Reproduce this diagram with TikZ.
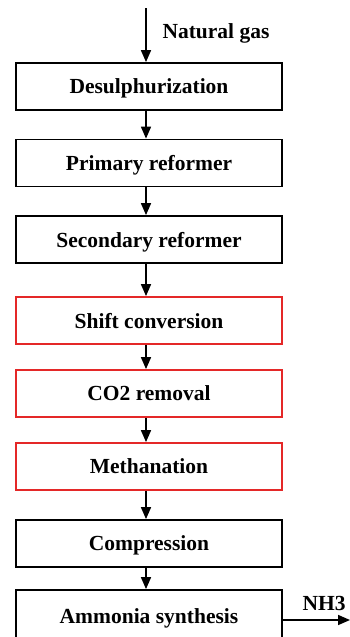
\documentclass[tikz,border=0pt]{standalone}
\usepackage{fontspec}
\setmainfont{Liberation Serif}
\usetikzlibrary{arrows.meta}
\definecolor{stagered}{RGB}{228,40,40}
\tikzset{
	stage/.style={draw, line width=1.8pt, minimum width=266pt, minimum height=47pt, inner sep=0pt, text depth=0pt, font=\bfseries\fontsize{21.5}{24}\selectfont},
	redstage/.style={stage, draw=stagered},
	flow/.style={line width=1.6pt, -{Triangle[length=12pt,width=10pt]}}
}
\begin{document}
\begin{tikzpicture}[x=1pt,y=-1pt]
	\useasboundingbox (0,0) rectangle (350,637);
	\node[stage](desul) at (149,86.5){Desulphurization};
	\node[stage](prim) at (149,163){Primary reformer};
	\node[stage](sec) at (149,239.5){Secondary reformer};
	\node[redstage](shift) at (149,320.5){Shift conversion};
	\node[redstage](co2) at (149,393.5){CO2 removal};
	\node[redstage](meth) at (149,466.5){Methanation};
	\node[stage](comp) at (149,543.5){Compression};
	% box runs off the bottom edge
	\node[stage, minimum height=53pt](synth) at (149,616.5){Ammonia synthesis};
	
	\coordinate(feed) at (146,8);
	\coordinate(out) at (350,620);
	
	\draw[flow]  (feed)--([xshift=-3pt]desul.north);
	\draw[flow]  ([xshift=-3pt]desul.south)--([xshift=-3pt]prim.north);
	\draw[flow]  ([xshift=-3pt]prim.south)--([xshift=-3pt]sec.north);
	\draw[flow]  ([xshift=-3pt]sec.south)--([xshift=-3pt]shift.north);
	\draw[flow]  ([xshift=-3pt]shift.south)--([xshift=-3pt]co2.north);
	\draw[flow]  ([xshift=-3pt]co2.south)--([xshift=-3pt]meth.north);
	\draw[flow]  ([xshift=-3pt]meth.south)--([xshift=-3pt]comp.north);
	\draw[flow]  ([xshift=-3pt]comp.south)--([xshift=-3pt]synth.north);
	\draw[flow]  (synth.east|-out)--(out);
	
	\node[font=\bfseries\fontsize{21.5}{24}\selectfont](gas) at (216,33){Natural gas};
	\node[font=\bfseries\fontsize{21.5}{24}\selectfont](nh3) at (324,603){NH3};
\end{tikzpicture}
\end{document}
